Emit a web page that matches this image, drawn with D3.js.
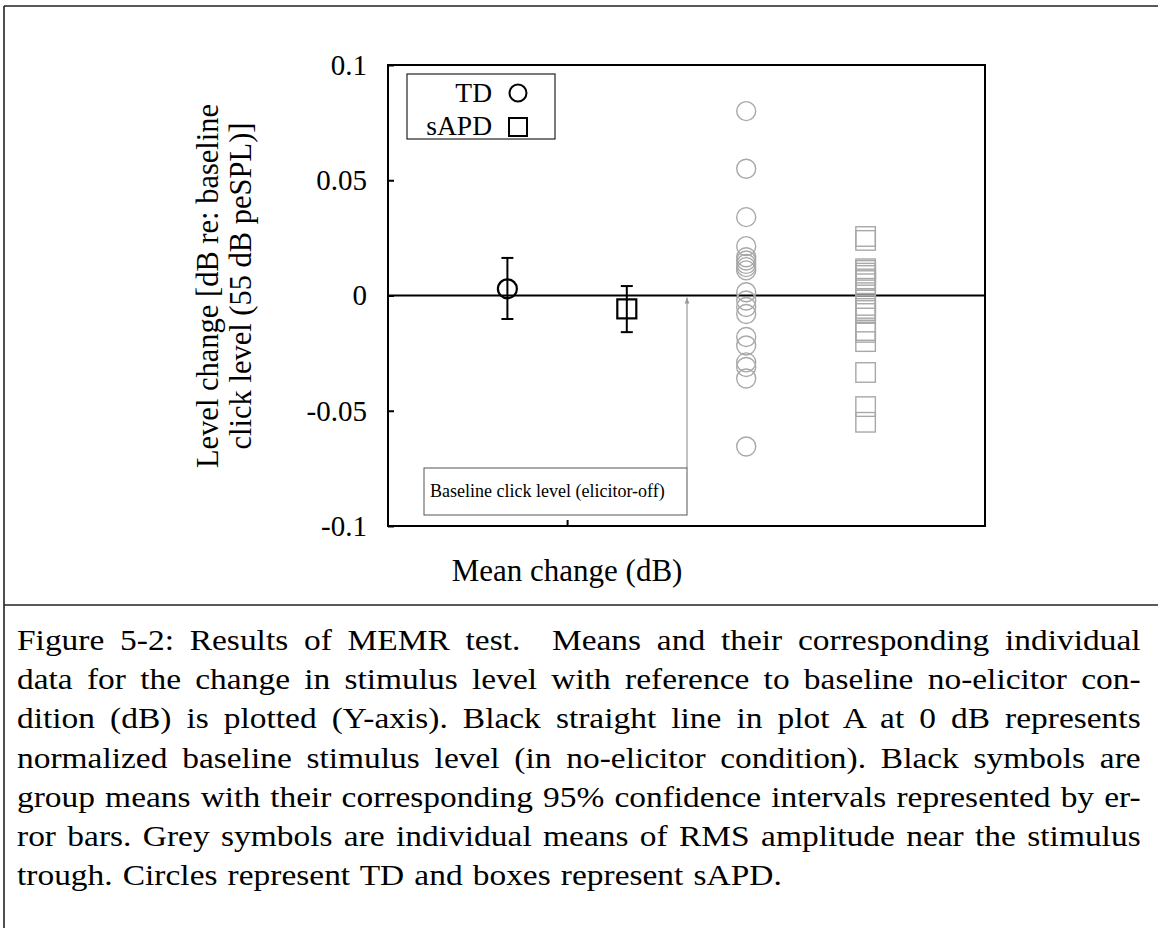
<!DOCTYPE html>
<html><head><meta charset="utf-8">
<script src="https://cdn.jsdelivr.net/npm/d3@7"></script>
<style>
html,body{margin:0;padding:0;background:#fff;}
svg{display:block;}
</style></head>
<body>
<svg id="c" width="1158" height="928"></svg>
<script>
// ---- data ----
const groups = ["TD", "sAPD"];
const groupPos = [1, 2];            // x slot of group means
const indivPos = [3, 4];            // x slot of individual data
const meanValues = [0.0029, -0.0058];
const ciUpper = [0.0163, 0.0041];
const ciLower = [-0.0102, -0.0159];
const tdIndividual = [0.080, 0.055, 0.034, 0.0214, 0.0166, 0.0152, 0.0137, 0.0123, 0.0109,
  0.0014, -0.0022, -0.005, -0.008, -0.018, -0.0217, -0.029, -0.031, -0.036, -0.0655];
const sapdIndividual = [0.0256, 0.0239, 0.0116, 0.0109, 0.0097, 0.0087, 0.0072, 0.0065, 0.0051,
  -0.0013, -0.0043, -0.0056, -0.0065, -0.0078, -0.0152, -0.016, -0.02, -0.0334, -0.0482, -0.055];
const yTickValues = [0.1, 0.05, 0, -0.05, -0.1];
const yTickLabels = ["0.1", "0.05", "0", "-0.05", "-0.1"];
const xTickValues = [1.5];
const yLabelLines = ["Level change [dB re: baseline", "click level (55 dB peSPL)]"];
const xLabel = "Mean change (dB)";
const annotationText = "Baseline click level (elicitor-off)";
const captionLines = [
  "Figure 5-2: Results of MEMR test.  Means and their corresponding individual",
  "data for the change in stimulus level with reference to baseline no-elicitor con-",
  "dition (dB) is plotted (Y-axis). Black straight line in plot A at 0 dB represents",
  "normalized baseline stimulus level (in no-elicitor condition). Black symbols are",
  "group means with their corresponding 95% confidence intervals represented by er-",
  "ror bars. Grey symbols are individual means of RMS amplitude near the stimulus",
  "trough. Circles represent TD and boxes represent sAPD."
];

// ---- layout ----
const svg = d3.select("#c");
const serif = "'Liberation Serif','Times New Roman',serif";
const L = 388, R = 985, T = 65, B = 526;
const x = d3.scaleLinear().domain([0, 5]).range([L, R]);
const y = d3.scaleLinear().domain([-0.1, 0.1]).range([B, T]);
const grey = "#a8a8a8";

// outer frame
svg.append("line").attr("x1", 4).attr("x2", 1158).attr("y1", 6).attr("y2", 6).attr("stroke", "#222").attr("stroke-width", 1.6);
svg.append("line").attr("x1", 4).attr("x2", 4).attr("y1", 6).attr("y2", 928).attr("stroke", "#222").attr("stroke-width", 1.6);
svg.append("line").attr("x1", 4).attr("x2", 1158).attr("y1", 605).attr("y2", 605).attr("stroke", "#222").attr("stroke-width", 1.6);

// y axis
const yAxis = d3.axisLeft(y).tickValues(yTickValues).tickFormat((d, i) => yTickLabels[i]).tickSizeInner(-6).tickSizeOuter(0).tickPadding(21);
const gy = svg.append("g").attr("transform", `translate(${L},0)`).call(yAxis);
gy.select(".domain").remove();
gy.selectAll(".tick line").attr("stroke", "#000").attr("stroke-width", 2);
gy.selectAll(".tick text").attr("font-family", serif).attr("font-size", 29).attr("fill", "#000");

// x axis
const xAxis = d3.axisBottom(x).tickValues(xTickValues).tickFormat("").tickSizeInner(-6).tickSizeOuter(0);
const gx = svg.append("g").attr("transform", `translate(0,${B})`).call(xAxis);
gx.select(".domain").remove();
gx.selectAll(".tick line").attr("stroke", "#000").attr("stroke-width", 2);

// plot box
svg.append("rect").attr("x", L).attr("y", T).attr("width", R - L).attr("height", B - T)
  .attr("fill", "none").attr("stroke", "#000").attr("stroke-width", 2);

// zero line
svg.append("line").attr("x1", L).attr("x2", R).attr("y1", y(0)).attr("y2", y(0)).attr("stroke", "#000").attr("stroke-width", 2);

// axis labels
const yl = svg.append("text").attr("transform", `rotate(-90)`)
  .attr("font-family", serif).attr("font-size", 30.5).attr("text-anchor", "middle");
yLabelLines.forEach((t, i) => {
  yl.append("tspan").attr("x", -286).attr("y", 218 + i * 33).text(t);
});
svg.append("text").attr("x", x(1.5)).attr("y", 581).attr("text-anchor", "middle")
  .attr("font-family", serif).attr("font-size", 31).text(xLabel);

// individual data (grey)
svg.append("g").selectAll("circle").data(tdIndividual).join("circle")
  .attr("cx", x(indivPos[0])).attr("cy", d => y(d)).attr("r", 9.5)
  .attr("fill", "none").attr("stroke", grey).attr("stroke-width", 1.4);
const sq = 19.5;
svg.append("g").selectAll("rect").data(sapdIndividual).join("rect")
  .attr("x", x(indivPos[1]) - sq / 2).attr("y", d => y(d) - sq / 2).attr("width", sq).attr("height", sq)
  .attr("fill", "none").attr("stroke", grey).attr("stroke-width", 1.4);

// group means with CI
const eb = svg.append("g");
groups.forEach((g, i) => {
  const cx = x(groupPos[i]);
  eb.append("line").attr("x1", cx).attr("x2", cx).attr("y1", y(ciUpper[i])).attr("y2", y(ciLower[i])).attr("stroke", "#000").attr("stroke-width", 2);
  [ciUpper[i], ciLower[i]].forEach(v => {
    eb.append("line").attr("x1", cx - 6).attr("x2", cx + 6).attr("y1", y(v)).attr("y2", y(v)).attr("stroke", "#000").attr("stroke-width", 2);
  });
});
eb.append("circle").attr("cx", x(groupPos[0])).attr("cy", y(meanValues[0])).attr("r", 9.5)
  .attr("fill", "none").attr("stroke", "#000").attr("stroke-width", 2.2);
eb.append("rect").attr("x", x(groupPos[1]) - 9.5).attr("y", y(meanValues[1]) - 9.5).attr("width", 19).attr("height", 19)
  .attr("fill", "none").attr("stroke", "#000").attr("stroke-width", 2.2);

// legend
const lg = svg.append("g");
lg.append("rect").attr("x", 407).attr("y", 74).attr("width", 148).attr("height", 65)
  .attr("fill", "#fff").attr("stroke", "#222").attr("stroke-width", 1.2);
lg.append("text").attr("x", 492).attr("y", 102).attr("text-anchor", "end").attr("font-family", serif).attr("font-size", 27.5).text(groups[0]);
lg.append("text").attr("x", 492).attr("y", 135).attr("text-anchor", "end").attr("font-family", serif).attr("font-size", 27.5).text(groups[1]);
lg.append("circle").attr("cx", 518).attr("cy", 93).attr("r", 8.5).attr("fill", "none").attr("stroke", "#000").attr("stroke-width", 2);
lg.append("rect").attr("x", 509).attr("y", 118).attr("width", 18).attr("height", 18).attr("fill", "none").attr("stroke", "#000").attr("stroke-width", 2);

// annotation
const defs = svg.append("defs");
defs.append("marker").attr("id", "ah").attr("viewBox", "0 0 10 10").attr("refX", 10).attr("refY", 5)
  .attr("markerWidth", 5).attr("markerHeight", 5).attr("orient", "auto")
  .append("path").attr("d", "M0,1 L10,5 L0,9 Z").attr("fill", "#999");
svg.append("line").attr("x1", 687).attr("x2", 687).attr("y1", 468).attr("y2", y(0) + 2)
  .attr("stroke", "#999").attr("stroke-width", 1.2).attr("marker-end", "url(#ah)");
svg.append("rect").attr("x", 424).attr("y", 468).attr("width", 263).attr("height", 47)
  .attr("fill", "#fff").attr("stroke", "#555").attr("stroke-width", 1);
svg.append("text").attr("x", 430).attr("y", 497).attr("font-family", serif).attr("font-size", 18).text(annotationText);

// caption: justified by word spacing
const cap = svg.append("g");
const capFs = 29, capLeft = 17, capRight = 1141;
const nodes = captionLines.map((t, i) => cap.append("text")
  .attr("font-family", serif).attr("font-size", capFs)
  .style("white-space", "pre").text(t));
const widths = nodes.map(n => n.node().getComputedTextLength());
const spaces = captionLines.map(t => (t.match(/ /g) || []).length);
const fullIdx = d3.range(captionLines.length - 1);
const s = d3.min(fullIdx, i => (capRight - capLeft) / (widths[i] + spaces[i] * 1.5));
nodes.forEach((n, i) => {
  const last = i === nodes.length - 1;
  const extra = last ? 1.5 : ((capRight - capLeft) / s - widths[i]) / spaces[i];
  n.attr("transform", `translate(${capLeft},${650 + i * 39.2}) scale(${s},1)`)
   .attr("word-spacing", extra);
});
</script>
</body></html>
